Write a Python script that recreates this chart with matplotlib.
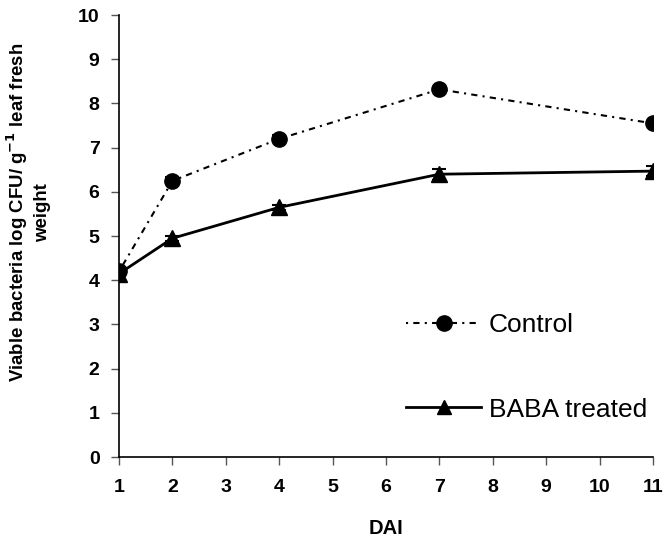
import matplotlib.pyplot as plt
from matplotlib.lines import Line2D

plt.rcParams['font.family'] = ['Liberation Sans', 'DejaVu Sans']

dai = [1, 2, 4, 7, 11]
control = [4.2, 6.25, 7.2, 8.32, 7.55]
control_err = [0.05, 0.08, 0.08, 0.05, 0.05]
baba = [4.15, 4.95, 5.65, 6.4, 6.47]
baba_err = [0.05, 0.06, 0.06, 0.12, 0.12]

ctrl_ls = (0, (1, 2.5, 3, 2.5))

fig = plt.figure(figsize=(6.65, 5.39), dpi=100)
ax = fig.add_axes([0.179, 0.152, 0.803, 0.820])

ax.errorbar(dai, control, yerr=control_err, color='black', linestyle=ctrl_ls,
            linewidth=1.5, marker='o', markersize=11, capsize=5, capthick=1.5,
            elinewidth=1.5)
ax.errorbar(dai, baba, yerr=baba_err, color='black', linestyle='-',
            linewidth=2, marker='^', markersize=11, capsize=5, capthick=1.5,
            elinewidth=1.5)

ax.set_xlim(1, 11)
ax.set_ylim(0, 10)
ax.set_xticks(range(1, 12))
ax.set_yticks(range(0, 11))
for s in ['top', 'right']:
    ax.spines[s].set_visible(False)
for s in ['left', 'bottom']:
    ax.spines[s].set_linewidth(1.2)
ax.tick_params(direction='out', length=6, width=1, color='#555555', labelsize=14)
for lab in ax.get_xticklabels() + ax.get_yticklabels():
    lab.set_fontweight('bold')
ax.tick_params(axis='x', pad=10)
ax.tick_params(axis='y', pad=8)

ax.set_xlabel('DAI', fontsize=14.5, fontweight='bold', labelpad=16)
ax.set_ylabel('Viable bacteria log CFU/ g$^{\\mathbf{-1}}$ leaf fresh\nweight',
              fontsize=13.4, fontweight='bold', linespacing=1.3)
ax.yaxis.set_label_coords(-0.128, 0.554)

handles = [
    Line2D([], [], color='black', linestyle=ctrl_ls, linewidth=1.5, marker='o', markersize=11),
    Line2D([], [], color='black', linestyle='-', linewidth=2, marker='^', markersize=10),
]
ax.legend(handles, ['Control', 'BABA treated'], loc='upper left',
          bbox_to_anchor=(0.518, 0.35), frameon=False, fontsize=19,
          handlelength=2.85, handletextpad=0.27, labelspacing=2.3,
          borderaxespad=0, borderpad=0.4)

fig.savefig('out.png', dpi=100)
